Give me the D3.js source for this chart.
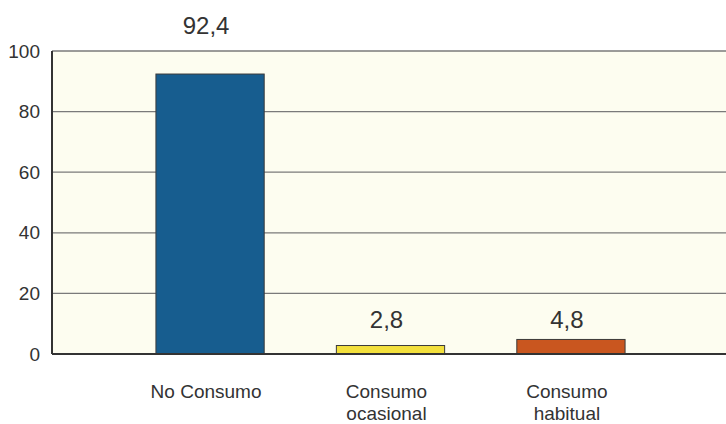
<!DOCTYPE html>
<html>
<head>
<meta charset="utf-8">
<script src="https://cdn.jsdelivr.net/npm/d3@7"></script>
<style>
  body { margin: 0; background: #fff; }
  svg { display: block; font-family: "Liberation Sans", Arial, sans-serif; }
</style>
</head>
<body>
<div id="chart"></div>
<script>
// datos
const categories = ["No Consumo", "Consumo ocasional", "Consumo habitual"];
const labelLines = [["No Consumo"], ["Consumo", "ocasional"], ["Consumo", "habitual"]];
const values = [92.4, 2.8, 4.8];
const valueLabels = ["92,4", "2,8", "4,8"];
const barColors = ["#175d8f", "#f3e03c", "#c9561f"];
const yTicks = [0, 20, 40, 60, 80, 100];

const W = 726, H = 424;
const X0 = 52, Y0 = 51, YB = 354;

const svg = d3.select("#chart").append("svg")
    .attr("width", W)
    .attr("height", H);

// escalas
const x = d3.scaleBand()
    .domain(categories)
    .range([X0, 729])
    .paddingInner(0.4)
    .paddingOuter(0.576);

const y = d3.scaleLinear()
    .domain([0, 100])
    .range([YB, Y0]);

// fondo del area
svg.append("rect")
    .attr("x", X0)
    .attr("y", Y0)
    .attr("width", W - X0)
    .attr("height", YB - Y0)
    .attr("fill", "#fdfdf0");

// lineas de grid
svg.append("g")
    .selectAll("line")
    .data(yTicks.filter(d => d > 0))
    .enter()
    .append("line")
    .attr("x1", X0)
    .attr("x2", W)
    .attr("y1", d => y(d))
    .attr("y2", d => y(d))
    .attr("stroke", "#7a7a7a")
    .attr("stroke-width", 1.3);

// eje y
const yAxis = svg.append("g")
    .attr("transform", `translate(${X0},0)`)
    .call(d3.axisLeft(y).tickValues(yTicks).tickSize(0).tickPadding(12));
yAxis.select(".domain").remove();
yAxis.selectAll("text")
    .attr("font-size", 19)
    .attr("font-family", "Liberation Sans, Arial, sans-serif")
    .attr("fill", "#333");

// barras
svg.append("g")
    .selectAll("rect")
    .data(values)
    .enter()
    .append("rect")
    .attr("x", (d, i) => x(categories[i]))
    .attr("y", d => y(d))
    .attr("width", x.bandwidth())
    .attr("height", d => y(0) - y(d))
    .attr("fill", (d, i) => barColors[i])
    .attr("stroke", "#3a3a3a")
    .attr("stroke-width", 1);

// ejes (linea)
svg.append("line")
    .attr("x1", X0).attr("x2", X0)
    .attr("y1", Y0).attr("y2", YB)
    .attr("stroke", "#333").attr("stroke-width", 2);
svg.append("line")
    .attr("x1", X0).attr("x2", W)
    .attr("y1", YB).attr("y2", YB)
    .attr("stroke", "#333").attr("stroke-width", 2);

// etiquetas de valor
svg.append("g")
    .selectAll("text")
    .data(values)
    .enter()
    .append("text")
    .attr("x", (d, i) => x(categories[i]) + x.bandwidth() / 2 - 4)
    .attr("y", d => d > 10 ? y(d) - 40 : y(0) - 26)
    .attr("text-anchor", "middle")
    .attr("font-size", 24)
    .attr("fill", "#333")
    .text((d, i) => valueLabels[i]);

// etiquetas de categoria
const cat = svg.append("g")
    .selectAll("text")
    .data(categories)
    .enter()
    .append("text")
    .attr("x", d => x(d) + x.bandwidth() / 2 - 4)
    .attr("y", 398)
    .attr("text-anchor", "middle")
    .attr("font-size", 19)
    .attr("fill", "#333");
cat.selectAll("tspan")
    .data((d, i) => labelLines[i])
    .enter()
    .append("tspan")
    .attr("x", function () { return d3.select(this.parentNode).attr("x"); })
    .attr("dy", (d, i) => i === 0 ? 0 : 22)
    .text(d => d);
</script>
</body>
</html>
